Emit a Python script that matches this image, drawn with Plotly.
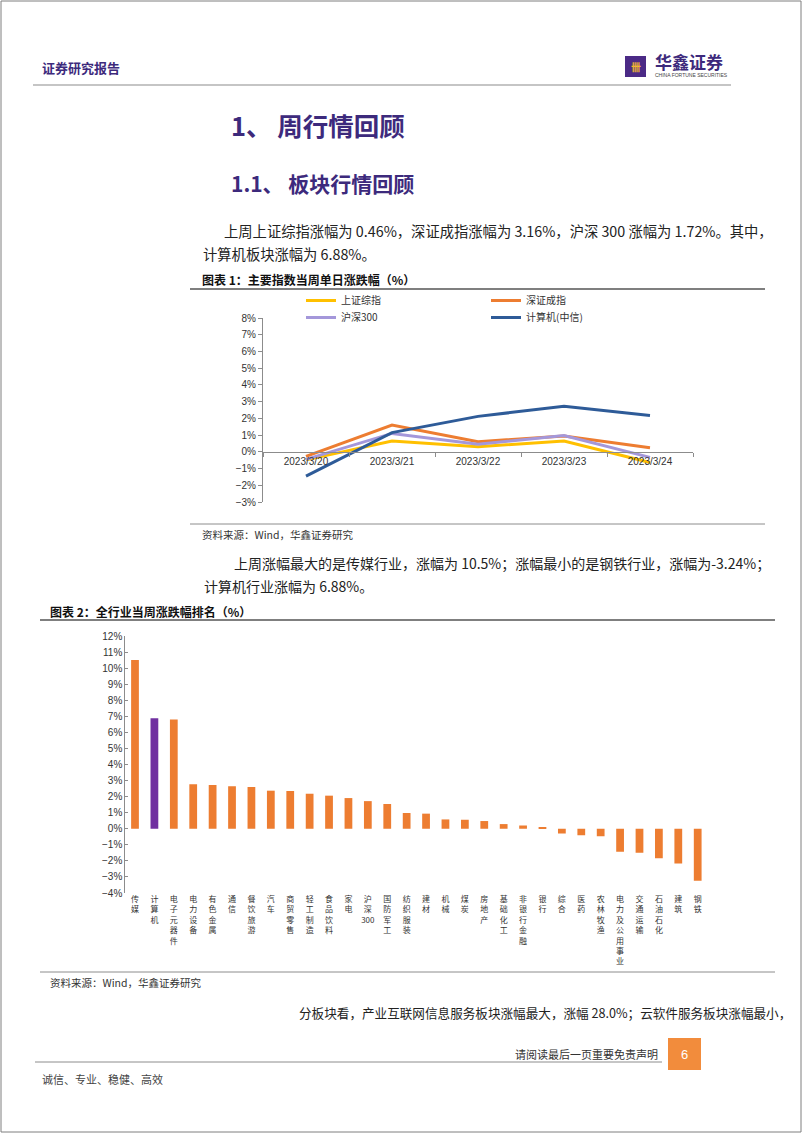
import plotly.graph_objects as go

W, H = 802, 1133

# chart 1: daily change of major indices (%)
dates = ["2023/3/20", "2023/3/21", "2023/3/22", "2023/3/23", "2023/3/24"]
sh_composite = [-0.48, 0.64, 0.31, 0.64, -0.64]
sz_component = [-0.27, 1.60, 0.60, 0.95, 0.25]
hs300 = [-0.45, 1.10, 0.45, 0.98, -0.33]
computer_citic = [-1.45, 1.15, 2.12, 2.72, 2.17]

# chart 2: weekly change by industry (%)
industries = ["传媒", "计算机", "电子元器件", "电力设备", "有色金属", "通信", "餐饮旅游",
              "汽车", "商贸零售", "轻工制造", "食品饮料", "家电", "沪深300", "国防军工",
              "纺织服装", "建材", "机械", "煤炭", "房地产", "基础化工", "非银行金融",
              "银行", "综合", "医药", "农林牧渔", "电力及公用事业", "交通运输",
              "石油石化", "建筑", "钢铁"]
industry_chg = [10.50, 6.88, 6.80, 2.77, 2.72, 2.64, 2.60, 2.37, 2.35, 2.18, 2.06,
                1.91, 1.72, 1.54, 0.98, 0.94, 0.58, 0.56, 0.48, 0.29, 0.21, 0.06,
                -0.29, -0.40, -0.46, -1.43, -1.50, -1.83, -2.16, -3.24]
highlight = "计算机"

CJK = "Noto Sans CJK SC"
NUM = "Liberation Sans, Arial"
PURPLE = "#3d2a7c"


def px(x):
    return x / W


def py(y):
    return 1 - y / H


def stack(name):
    # vertical tick text: one character per line, keep digits together
    out, buf = [], ""
    for ch in name:
        if ch.isdigit():
            buf += ch
        else:
            if buf:
                out.append(buf)
                buf = ""
            out.append(ch)
    if buf:
        out.append(buf)
    return "<br>".join(out)


fig = go.Figure()

series = [("上证综指", sh_composite, "#FFC000", "legend"),
          ("深证成指", sz_component, "#ED7D31", "legend"),
          ("沪深300", hs300, "#A497DA", "legend2"),
          ("计算机(中信)", computer_citic, "#2E5B98", "legend2")]
for name, vals, col, lg in series:
    fig.add_trace(go.Scatter(x=dates, y=vals, name=name, mode="lines",
                             line=dict(color=col, width=3), legend=lg,
                             xaxis="x", yaxis="y"))

fig.add_trace(go.Bar(x=industries, y=industry_chg, width=0.4,
                     marker=dict(color=["#7030A0" if n == highlight else "#ED7D31" for n in industries],
                                 line=dict(width=0)),
                     showlegend=False, xaxis="x3", yaxis="y2"))

# chart areas
c1_x = [px(263), px(693)]
c1_y = [py(502), py(318)]
c2_x = [px(125.3), px(707.4)]
c2_y = [py(893), py(636)]
zero1 = c1_y[0] + (c1_y[1] - c1_y[0]) * 3 / 11
zero2 = c2_y[0] + (c2_y[1] - c2_y[0]) * 4 / 16

axis_common = dict(showgrid=False, zeroline=False, linecolor="#8c8c8c", linewidth=1,
                   tickcolor="#8c8c8c", automargin=False)
legend_common = dict(orientation="h", xanchor="left", yanchor="top",
                     entrywidth=140, entrywidthmode="pixels", itemwidth=30,
                     font=dict(family=CJK, size=10, color="#333"), bgcolor="rgba(0,0,0,0)")

fig.update_layout(
    width=W, height=H, margin=dict(l=0, r=0, t=0, b=0, autoexpand=False),
    paper_bgcolor="white", plot_bgcolor="rgba(0,0,0,0)",
    font=dict(family=CJK, color="#222"),
    xaxis=dict(domain=c1_x, anchor="free", position=zero1, type="category",
               range=[-0.5, len(dates) - 0.5],
               showline=True, ticks="outside", ticklen=4, tickson="boundaries",
               tickfont=dict(family=NUM, size=10, color="#333"), **axis_common),
    yaxis=dict(domain=c1_y, anchor="x", range=[-3, 8], dtick=1, ticksuffix="%",
               showline=True, ticks="outside", ticklen=4,
               tickfont=dict(family=NUM, size=10, color="#333"), **axis_common),
    xaxis3=dict(domain=c2_x, anchor="y2", type="category", showline=False,
                range=[-0.5, len(industries) - 0.5],
                tickvals=industries, ticktext=[stack(n) for n in industries],
                tickfont=dict(family=CJK, size=8, color="#333"), ticks="",
                showgrid=False, zeroline=False, automargin=False),
    xaxis4=dict(domain=c2_x, overlaying="x3", anchor="free", position=zero2,
                range=[-0.5, len(industries) - 0.5],
                tickvals=[i - 0.5 for i in range(len(industries) + 1)],
                showticklabels=False, showline=True, ticks="outside", ticklen=3,
                **axis_common),
    yaxis2=dict(domain=c2_y, anchor="x3", range=[-4, 12], dtick=1, ticksuffix="%",
                showline=True, ticks="inside", ticklen=3,
                tickfont=dict(family="Liberation Sans Narrow, Arial Narrow, Liberation Sans", size=10, color="#333"),
                **axis_common),
    legend=dict(x=px(301), y=py(286), **legend_common),
    legend2=dict(x=px(301), y=py(303), **legend_common),
)


def text(x, y, s, size, color="#222", bold=False, anchor="left", family=CJK):
    if bold:
        s = "<b>" + s + "</b>"
    fig.add_annotation(x=px(x), y=py(y), xref="paper", yref="paper", text=s,
                       showarrow=False, xanchor=anchor, yanchor="middle",
                       font=dict(family=family, size=size, color=color))


def hline(x0, x1, y, color="#8c8c8c", width=1):
    fig.add_shape(type="line", xref="paper", yref="paper", x0=px(x0), x1=px(x1),
                  y0=py(y), y1=py(y), line=dict(color=color, width=width))


# page frame
fig.add_shape(type="rect", xref="paper", yref="paper", x0=px(1), x1=px(801), y0=py(1132), y1=py(1),
              line=dict(color="#7f7f7f", width=1))

# header
text(40, 68, "证券研究报告", 13, PURPLE, bold=True)
fig.add_shape(type="rect", xref="paper", yref="paper", x0=px(625), x1=px(646), y0=py(77), y1=py(56),
              fillcolor="#4b2a86", line=dict(width=0))
text(635.5, 67, "卌", 10, "#f2b632", bold=True, anchor="center")
text(653, 61, "华鑫证券", 17, PURPLE, bold=True)
text(653, 75, "CHINA FORTUNE SECURITIES", 5, "#444", family=NUM)
hline(33, 731, 85, "#8c8c8c", 1.2)

# headings
text(229, 124, "1、 周行情回顾", 25.5, PURPLE, bold=True)
text(229, 183, "1.1、 板块行情回顾", 21, PURPLE, bold=True)

text(222, 230, "上周上证综指涨幅为 0.46%，深证成指涨幅为 3.16%，沪深 300 涨幅为 1.72%。其中，", 14.3)
text(201, 253, "计算机板块涨幅为 6.88%。", 14.3)

text(200, 280, "图表 1：主要指数当周单日涨跌幅（%）", 12, "#111", bold=True)
hline(190, 765, 289, "#555", 1.5)
hline(190, 765, 524, "#8c8c8c", 1)
text(200, 534, "资料来源：Wind，华鑫证券研究", 10.5, "#333")

text(232, 563, "上周涨幅最大的是传媒行业，涨幅为 10.5%；涨幅最小的是钢铁行业，涨幅为-3.24%；", 14)
text(202, 586, "计算机行业涨幅为 6.88%。", 14)

text(48, 611, "图表 2：全行业当周涨跌幅排名（%）", 12, "#111", bold=True)
hline(40, 775, 620, "#555", 1.5)
hline(40, 775, 972, "#8c8c8c", 1)
text(48, 982, "资料来源：Wind，华鑫证券研究", 10.5, "#333")

text(297, 1012, "分板块看，产业互联网信息服务板块涨幅最大，涨幅 28.0%；云软件服务板块涨幅最小，", 12.6)

# footer
text(660, 1054, "请阅读最后一页重要免责声明", 11, "#333", anchor="right")
hline(35, 662, 1062, "#8c8c8c", 1)
fig.add_shape(type="rect", xref="paper", yref="paper", x0=px(668), x1=px(701), y0=py(1070), y1=py(1038),
              fillcolor="#F28C3C", line=dict(width=0))
text(684.5, 1054, "6", 13, "white", anchor="center", family=NUM)
text(40, 1079, "诚信、专业、稳健、高效", 11, "#444")

fig.write_html("out.html", config={"displayModeBar": False},
               post_script="document.body.style.margin='0';")
